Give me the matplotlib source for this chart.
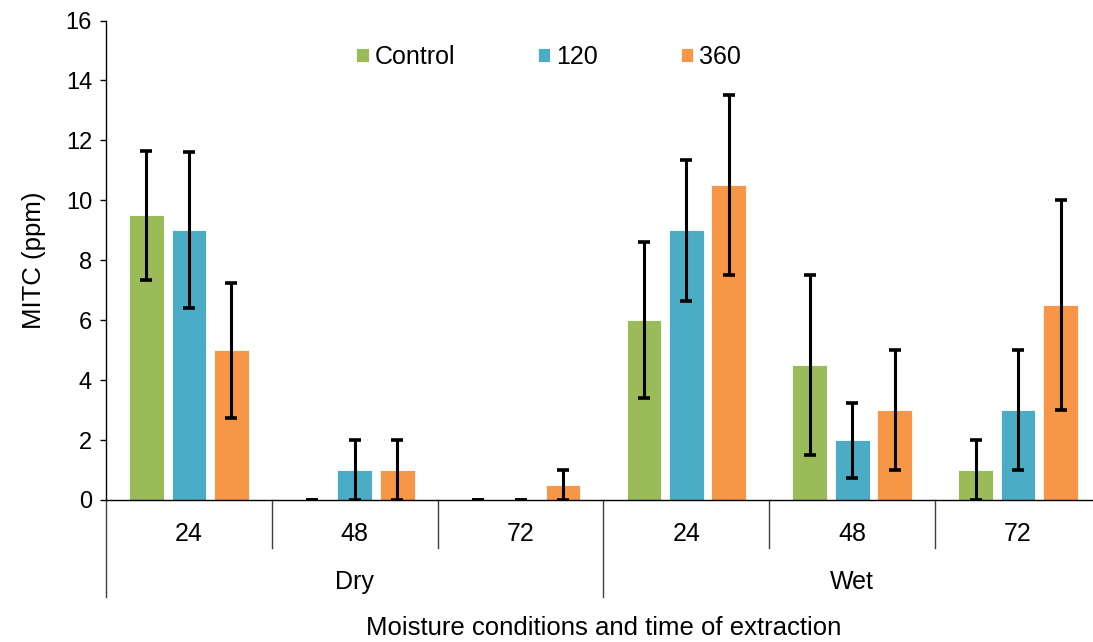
import numpy as np
import matplotlib
matplotlib.use("Agg")
import matplotlib.pyplot as plt

plt.rcParams['font.family'] = ['Liberation Sans', 'DejaVu Sans']

# extraction times within each moisture condition
times = ['24', '48', '72', '24', '48', '72']
moisture = ['Dry', 'Wet']
series = ['Control', '120', '360']

# MITC means (ppm) and error bars
control = [9.5, 0, 0, 6.0, 4.5, 1.0]
t120 = [9.0, 1.0, 0, 9.0, 2.0, 3.0]
t360 = [5.0, 1.0, 0.5, 10.5, 3.0, 6.5]
err_control = [2.15, 0, 0, 2.6, 3.0, 1.0]
err_120 = [2.6, 1.0, 0, 2.35, 1.25, 2.0]
err_360 = [2.25, 1.0, 0.5, 3.0, 2.0, 3.5]

colors = ['#9BBB59', '#4BACC6', '#F79646']
fs_tick = 17
fs = 18

fig = plt.figure(figsize=(10.93, 6.42), dpi=100)
ax = fig.add_axes([106/1093, 1-500/642, 995/1093, 479.5/642])

x = np.arange(len(times))
w = 0.21
step = 0.256
bars = []
for i, (vals, errs) in enumerate(zip([control, t120, t360], [err_control, err_120, err_360])):
    pos = x + (i-1)*step
    b = ax.bar(pos, vals, width=w, color=colors[i], edgecolor='white', linewidth=0.6, label=series[i], zorder=2)
    bars.append(b)
    ax.errorbar(pos, vals, yerr=errs, fmt='none', ecolor='black', elinewidth=2.2,
                capsize=4.5, capthick=2.6, zorder=3)

ax.set_xlim(-0.5, 5.5)
ax.set_ylim(0, 16)
ax.set_yticks(range(0, 17, 2))
ax.tick_params(axis='y', labelsize=fs_tick, direction='out', length=4, width=1, pad=6)
ax.set_xticks([])
for s in ['top', 'right']:
    ax.spines[s].set_visible(False)
ax.spines['left'].set_linewidth(1)
ax.spines['bottom'].set_linewidth(1)
ax.spines['bottom'].set_zorder(4)

ax.set_ylabel('MITC (ppm)', fontsize=18.5, labelpad=14)

# two-level category axis drawn below the plot
h = 479.5
tr = ax.get_xaxis_transform()
for b in np.arange(-0.5, 6.0, 1.0):
    depth = 97 if b in (-0.5, 2.5, 5.5) else 48
    ax.plot([b, b], [0, -depth/h], transform=tr, color='#404040', lw=1, clip_on=False)
for xi, t in zip(x, times):
    ax.text(xi, -34/h, t, transform=tr, ha='center', va='center', fontsize=fs)
for j, m in enumerate(moisture):
    ax.text(1 + 3*j, -82/h, m, transform=tr, ha='center', va='center', fontsize=fs)
ax.text(2.5, -128/h, 'Moisture conditions and time of extraction', transform=tr,
        ha='center', va='center', fontsize=18.5)

fig.legend(handles=bars, labels=series, loc='center left',
           bbox_to_anchor=(356/1093, 1-57/642), ncol=3, frameon=False, fontsize=fs,
           handlelength=0.5, handleheight=0.5, handletextpad=0.25,
           columnspacing=3.3, borderpad=0, borderaxespad=0)

fig.savefig('out.png', dpi=100)
